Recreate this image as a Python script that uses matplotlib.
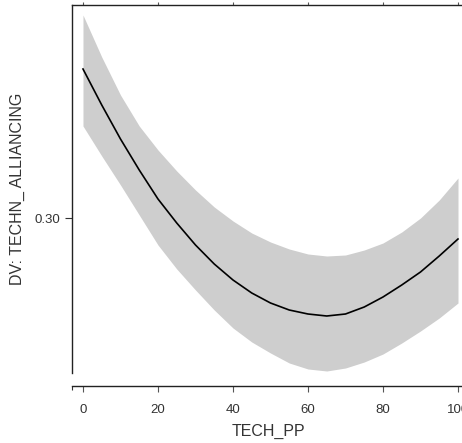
import matplotlib.pyplot as plt

# predicted values (x = TECH_PP)
tech_pp = [0, 5, 10, 15, 20, 25, 30, 35, 40, 45, 50,
           55, 60, 65, 70, 75, 80, 85, 90, 95, 100]
fit = [0.3298, 0.3226, 0.3158, 0.3096, 0.3038, 0.2990, 0.2946, 0.2908,
       0.2876, 0.2850, 0.2830, 0.2816, 0.2808, 0.2804, 0.2808, 0.2822,
       0.2842, 0.2866, 0.2892, 0.2924, 0.2958]
upper = [0.3406, 0.3322, 0.3246, 0.3184, 0.3136, 0.3094, 0.3056, 0.3022,
         0.2994, 0.2970, 0.2952, 0.2938, 0.2928, 0.2924, 0.2926, 0.2936,
         0.2950, 0.2972, 0.3000, 0.3036, 0.3080]
lower = [0.3184, 0.3124, 0.3066, 0.3006, 0.2946, 0.2898, 0.2856, 0.2816,
         0.2780, 0.2752, 0.2730, 0.2710, 0.2698, 0.2694, 0.2700, 0.2712,
         0.2728, 0.2750, 0.2774, 0.2800, 0.2830]

xticks = [0, 20, 40, 60, 80, 100]
yticks = [0.30]

plt.rcParams['font.family'] = ['Liberation Sans', 'DejaVu Sans']

W, H = 462, 443
fig = plt.figure(figsize=(W / 100, H / 100), dpi=100)
# axes box in pixels: left 72, top 5, bottom 373, runs past the right edge
ax = fig.add_axes([72 / W, 1 - 373 / H, 401 / W, 368 / H])

ax.fill_between(tech_pp, lower, upper, color='#cecece', lw=0)
ax.plot(tech_pp, fit, color='black', lw=1.2)

ax.set_xlim(-2.93, 104.0)
ax.set_ylim(0.2690, 0.3426)

ax.spines['right'].set_visible(False)
ax.spines['bottom'].set_position(('outward', 9))
for s in ['left', 'top', 'bottom']:
    ax.spines[s].set_linewidth(1.0)
    ax.spines[s].set_color('#222222')

ax.set_xticks(xticks)
ax.set_xticklabels([str(t) for t in xticks])
ax.set_xticks([-2.93], minor=True)
ax.set_yticks(yticks)
ax.set_yticklabels(['0.30'])

ax.tick_params(axis='x', which='major', direction='out', length=4, width=0.8,
               pad=9, color='#555555', labelsize=9.5, labelcolor='#333333')
ax.tick_params(axis='x', which='minor', direction='out', length=3, width=0.8,
               color='#333333', top=False)
ax.tick_params(axis='y', direction='out', length=5, width=0.8, pad=3.6,
               color='#333333', labelsize=9.5, labelcolor='#333333')
# faint ticks above the top frame line
ax.tick_params(axis='x', which='major', top=True, labeltop=False)
for t in ax.xaxis.get_major_ticks():
    t.tick2line.set_color('#c8c8c8')
    t.tick2line.set_markersize(2)

ax.set_xlabel('TECH_PP', fontsize=11.5, color='#333333')
ax.xaxis.set_label_coords((268 - 72) / 401, (373 - 431) / 368)
ax.xaxis.label.set_va('center')

ax.set_ylabel('DV: TECHN_ ALLIANCING', fontsize=11.5, color='#333333')
ax.yaxis.set_label_coords((17 - 72) / 401, 0.5)
ax.yaxis.label.set_va('center')

fig.savefig('out.png', dpi=100)
